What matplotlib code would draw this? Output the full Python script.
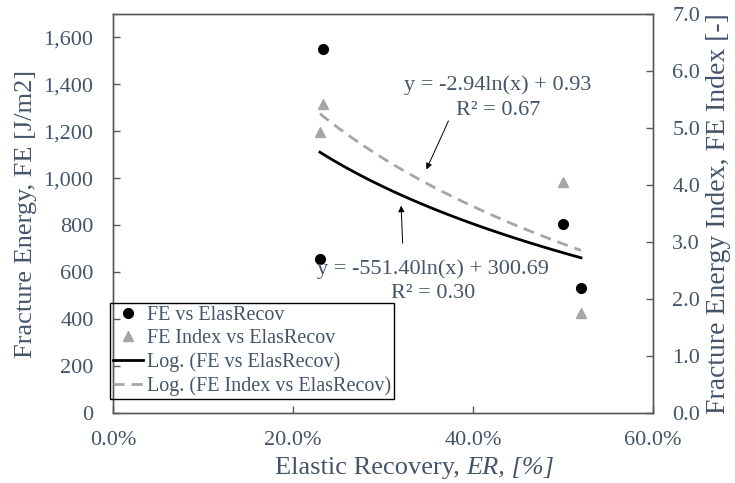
import matplotlib
matplotlib.use("Agg")
import matplotlib.pyplot as plt
from matplotlib.ticker import FuncFormatter, PercentFormatter
from matplotlib.offsetbox import TextArea, HPacker, AnchoredOffsetbox
import numpy as np

# elastic recovery (fraction) and measured fracture energy / FE index
elas_recov = [0.233, 0.230, 0.500, 0.520]
fe = [1550, 656, 805, 532]
fe_index = [5.42, 4.93, 4.05, 1.75]

# logarithmic trendline coefficients y = a*ln(x) + b, and R²
fe_fit = (-551.40, 300.69, 0.30)
idx_fit = (-2.94, 0.93, 0.67)

txt = "#44546A"
frame = "#595959"
gray = "#A6A6A6"

plt.rcParams["font.family"] = ["Liberation Serif", "DejaVu Serif"]

fig, ax = plt.subplots(figsize=(7.35, 4.83), dpi=100)
fig.subplots_adjust(left=0.1537, right=0.8884, top=0.971, bottom=0.145)
ax2 = ax.twinx()

xs = np.linspace(min(elas_recov), max(elas_recov), 100)

h1, = ax.plot(elas_recov, fe, "o", color="black", ms=7, label="FE vs ElasRecov")
h2, = ax2.plot(elas_recov, fe_index, "^", color=gray, ms=7.5, label="FE Index vs ElasRecov")
h3, = ax.plot(xs, fe_fit[0] * np.log(xs) + fe_fit[1], color="black", lw=2,
              label="Log. (FE vs ElasRecov)")
h4, = ax2.plot(xs, idx_fit[0] * np.log(xs) + idx_fit[1], color=gray, lw=2,
               ls=(0, (4, 2.5)), label="Log. (FE Index vs ElasRecov)")

ax.set_xlim(0, 0.6)
ax.set_ylim(0, 1700)
ax2.set_ylim(0, 7)
ax.set_xticks([0, 0.2, 0.4, 0.6])
ax.set_yticks(range(0, 1601, 200))
ax2.set_yticks(np.arange(0, 7.01, 1.0))
ax.xaxis.set_major_formatter(PercentFormatter(1.0, decimals=1))
ax.yaxis.set_major_formatter(FuncFormatter(lambda v, p: f"{v:,.0f}"))
ax2.yaxis.set_major_formatter(FuncFormatter(lambda v, p: f"{v:.1f}"))

for a in (ax, ax2):
    for s in a.spines.values():
        s.set_color(frame)
        s.set_linewidth(1.0)
    a.tick_params(direction="in", length=5, width=1, color=frame,
                  labelcolor=txt, labelsize=16, pad=14)
ax.tick_params(axis="x", pad=13)

ax.set_ylabel("Fracture Energy, FE [J/m2]", color=txt, fontsize=19, labelpad=5)
ax2.set_ylabel("Fracture Energy Index, FE Index [-]", color=txt, fontsize=20, labelpad=4)

# x label: plain part followed by italic symbol part
xl_plain = TextArea("Elastic Recovery, ", textprops=dict(color=txt, fontsize=19))
xl_ital = TextArea("ER, [%]", textprops=dict(color=txt, fontsize=19, style="italic"))
xl = HPacker(children=[xl_plain, xl_ital], align="baseline", pad=0, sep=0)
ax.add_artist(AnchoredOffsetbox(loc="upper center", child=xl, frameon=False, pad=0,
                                borderpad=0, bbox_to_anchor=(0.559, -0.11),
                                bbox_transform=ax.transAxes))

# trendline equations with pointer arrows
ax.text(0.428, 1345, f"y = {idx_fit[0]:.2f}ln(x) + {idx_fit[1]:.2f}\nR² = {idx_fit[2]:.2f}",
        ha="center", va="center", color=txt, fontsize=16, linespacing=1.45)
ax.annotate("", xy=(0.347, 1027), xytext=(0.374, 1255),
            arrowprops=dict(arrowstyle="-|>", lw=0.7, color="black", mutation_scale=9))
ax.text(0.356, 562, f"y = {fe_fit[0]:.2f}ln(x) + {fe_fit[1]:.2f}\nR² = {fe_fit[2]:.2f}",
        ha="center", va="center", color=txt, fontsize=16, linespacing=1.35)
ax.annotate("", xy=(0.320, 895), xytext=(0.322, 712),
            arrowprops=dict(arrowstyle="-|>", lw=0.7, color="black", mutation_scale=9))

leg = ax2.legend(handles=[h1, h2, h3, h4], loc="lower left",
                 bbox_to_anchor=(-0.006, 0.035), fontsize=14.5, frameon=True,
                 fancybox=False, facecolor="none", framealpha=1, edgecolor="black",
                 handlelength=1.5, handletextpad=0.2, labelspacing=0.2,
                 borderpad=0.15, borderaxespad=0)
leg.get_frame().set_linewidth(1.0)
for t in leg.get_texts():
    t.set_color(txt)

fig.savefig("out.png", dpi=100)
